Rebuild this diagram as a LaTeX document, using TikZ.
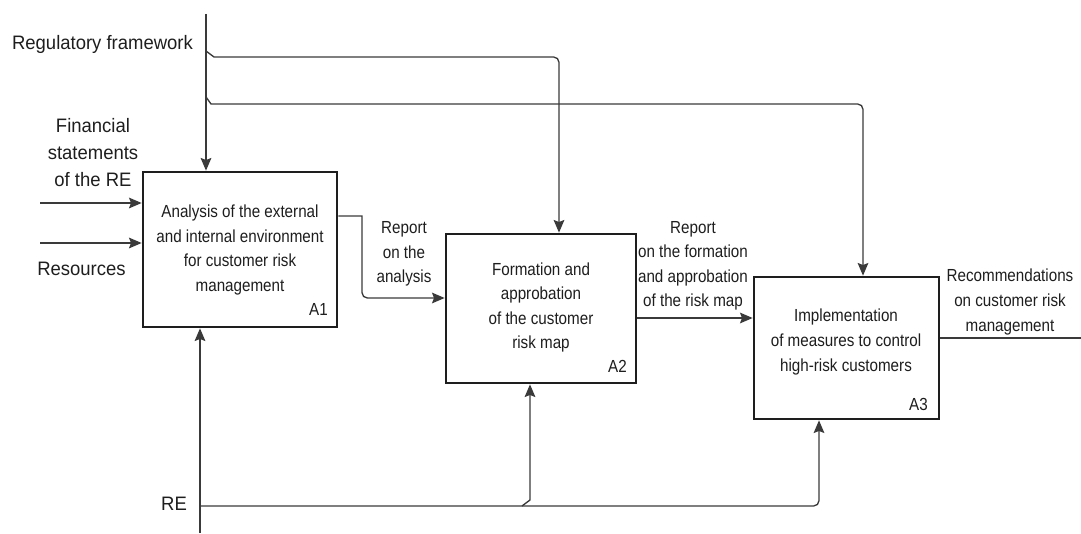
\documentclass[tikz,border=0pt]{standalone}
\usepackage{fontspec}
\setmainfont{Liberation Sans}
\newfontfamily\labfont[FakeStretch=0.95]{Liberation Sans}
\newfontfamily\boxfont[FakeStretch=0.87]{Liberation Sans}
\usetikzlibrary{arrows.meta}
\newdimen\pxu \pxu=0.75pt
\definecolor{boxc}{HTML}{1E1E1E}
\definecolor{linec}{HTML}{3A3A3A}
\definecolor{txtc}{HTML}{1E1E1E}

\begin{document}
\begin{tikzpicture}[x=0.75pt, y=-0.75pt,
  proc/.style={draw=boxc, line width=2pt, inner sep=0pt, fill=white},
  flow/.style={draw=linec, line width=1pt, -{Stealth[length=9.5pt,width=8pt,inset=1.5pt]}},
  plain/.style={draw=linec, line width=1pt},
  lab/.style={font=\labfont\fontsize{14.6pt}{20.25pt}\selectfont, align=center, inner sep=0pt, text=txtc},
  btxt/.style={font=\boxfont\fontsize{13.1pt}{18.4pt}\selectfont, align=center, inner sep=0pt, text=txtc}]

\useasboundingbox (0,0) rectangle (1081,534);

% activity boxes
\node[proc, minimum width=194\pxu, minimum height=155\pxu] (A1) at (240,249.5) {};
\node[proc, minimum width=190\pxu, minimum height=149\pxu] (A2) at (541,308.5) {};
\node[proc, minimum width=185\pxu, minimum height=142\pxu] (A3) at (846.5,348) {};

% activity names and numbers
\node[btxt] (t1) at (240,250) {Analysis of the external\\and internal environment\\for customer risk\\management};
\node[btxt] (t2) at (541,307.5) {Formation and\\approbation\\of the customer\\risk map};
\node[btxt] (t3) at (846,342) {Implementation\\of measures to control\\high-risk customers};
\node[btxt, anchor=base east] (n1) at (328,316) {A1};
\node[btxt, anchor=base east] (n2) at (627,373) {A2};
\node[btxt, anchor=base east] (n3) at (928,410) {A3};

% arrow labels
\node[lab, anchor=base] (lreg) at (102.5,50) {Regulatory framework};
\node[lab] (lfin) at (93,153) {Financial\\statements\\of the RE};
\node[lab, anchor=base] (lres) at (81.5,276) {Resources};
\node[lab, anchor=base] (lre) at (174,510) {RE};
\node[btxt] (lrep1) at (404,254) {Report\\on the\\analysis};
\node[btxt] (lrep2) at (693,266) {Report\\on the formation\\and approbation\\of the risk map};
\node[btxt] (lrec) at (1010,302) {Recommendations\\on customer risk\\management};

% route points
\coordinate (ctop) at (206,14);
\coordinate (j1) at (206,51);
\coordinate (j2) at (206,97);
\coordinate (c1) at (559,57);
\coordinate (c2) at (863,104);
\coordinate (in1) at (40,203);
\coordinate (in2) at (40,243);
\coordinate (o1) at (362,216);
\coordinate (o1b) at (362,298);
\coordinate (o2) at (640,318);
\coordinate (out3) at (1081,338);
\coordinate (mbot) at (200,533);
\coordinate (mre) at (200,506);
\coordinate (c3) at (819,506);
\coordinate (j3) at (522,506);
\coordinate (c4) at (530,500);

% controls
\draw[flow] (ctop) -- (ctop |- A1.north);
\draw[flow] (j1) -- ++(8,6) [rounded corners=4pt] -- (c1) -- (c1 |- A2.north);
\draw[flow] (j2) -- ++(5,7) [rounded corners=4pt] -- (c2) -- (c2 |- A3.north);

% inputs
\draw[flow] (in1) -- (A1.west |- in1);
\draw[flow] (in2) -- (A1.west |- in2);

% outputs
\draw[flow] (A1.east |- o1) -- (o1) [rounded corners=4pt] -- (o1b) -- (A2.west |- o1b);
\draw[flow] (A2.east |- o2) -- (A3.west |- o2);
\draw[plain] (A3.east |- out3) -- (out3);

% mechanisms
\draw[flow] (mbot) -- (mbot |- A1.south);
\draw[flow, rounded corners=4pt] (mre) -- (c3) -- (c3 |- A3.south);
\draw[flow] (j3) -- (c4) -- (c4 |- A2.south);

\end{tikzpicture}
\end{document}
